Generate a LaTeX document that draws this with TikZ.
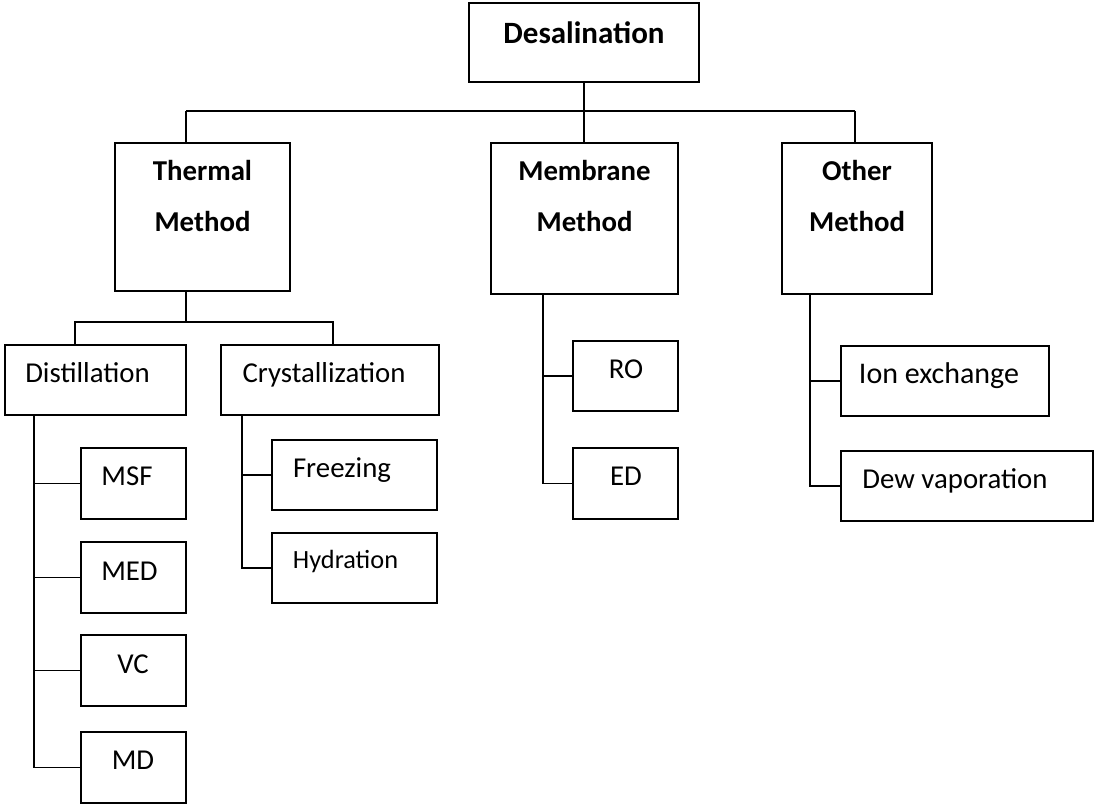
\documentclass[tikz,border=0pt]{standalone}
\usepackage{fontspec}
\setmainfont{Carlito}
\begin{document}
\begin{tikzpicture}[x=1pt,y=-1pt,
  box/.style={draw,line width=1.9pt,inner sep=0pt,rectangle},
  conn/.style={line width=1.9pt},
  bold/.style={font=\fontsize{28.8}{34}\selectfont\bfseries,anchor=base,inner sep=0pt},
  lbl/.style={font=\fontsize{28.8}{34}\selectfont,anchor=base,inner sep=0pt},
  lbls/.style={font=\fontsize{26.3}{31}\selectfont,anchor=base,inner sep=0pt}]
\useasboundingbox (0,0) rectangle (1095,807);
% boxes
\node[box,minimum width=230pt,minimum height=79pt] (desal) at (584,42.5) {};
\node[box,minimum width=175pt,minimum height=148pt] (thermal) at (202.5,217) {};
\node[box,minimum width=187pt,minimum height=151pt] (membrane) at (584.5,218.5) {};
\node[box,minimum width=150pt,minimum height=151pt] (other) at (857,218.5) {};
\node[box,minimum width=181pt,minimum height=70pt] (dist) at (95.5,380) {};
\node[box,minimum width=218pt,minimum height=70pt] (cryst) at (330,380) {};
\node[box,minimum width=105pt,minimum height=71pt] (msf) at (133.5,483.5) {};
\node[box,minimum width=105pt,minimum height=71pt] (med) at (133.5,577.5) {};
\node[box,minimum width=105pt,minimum height=71pt] (vc) at (133.5,670.5) {};
\node[box,minimum width=105pt,minimum height=71pt] (md) at (133.5,767.5) {};
\node[box,minimum width=165pt,minimum height=70pt] (freeze) at (354.5,475) {};
\node[box,minimum width=165pt,minimum height=70pt] (hydra) at (354.5,568) {};
\node[box,minimum width=105pt,minimum height=70pt] (ro) at (625.5,376) {};
\node[box,minimum width=105pt,minimum height=71pt] (ed) at (625.5,483.5) {};
\node[box,minimum width=208pt,minimum height=70pt] (ion) at (945,381) {};
\node[box,minimum width=252pt,minimum height=70pt] (dew) at (967,486) {};
% labels
\node[bold,font=\fontsize{31}{36}\selectfont\bfseries] (tdesal) at (584,43) {Desalination};
\node[bold] (tthermal1) at (202.5,180) {Thermal};
\node[bold] (tthermal2) at (202.5,231) {Method};
\node[bold] (tmem1) at (584.5,180) {Membrane};
\node[bold] (tmem2) at (584.5,231) {Method};
\node[bold] (toth1) at (857,180) {Other};
\node[bold] (toth2) at (857,231) {Method};
\node[lbl] (tdist) at (87.5,382) {Distillation};
\node[lbl] (tcryst) at (324,382) {Crystallization};
\node[lbl] (tmsf) at (127,485) {MSF};
\node[lbl] (tmed) at (129.5,580) {MED};
\node[lbl] (tvc) at (133,673) {VC};
\node[lbl] (tmd) at (133,769) {MD};
\node[lbl] (tfreeze) at (342,477) {Freezing};
\node[lbls] (thydra) at (345.5,568) {Hydration};
\node[lbl] (tro) at (626,378) {RO};
\node[lbl] (ted) at (626,485) {ED};
\node[lbl,font=\fontsize{30}{35}\selectfont] (tion) at (939,383) {Ion exchange};
\node[lbl] (tdew) at (955,488) {Dew vaporation};
% coordinates
\coordinate (busL) at (186,111);
\coordinate (busR) at (855,111);
\coordinate (tA) at (186,322);
\coordinate (tL) at (75,322);
\coordinate (tR) at (333,322);
\coordinate (dS) at (34,415);
\coordinate (cS) at (242,415);
\coordinate (mS) at (543,294);
\coordinate (oS) at (810,294);
% connectors
\draw[conn] (desal.south) -- (desal.south |- membrane.north);
\draw[conn] (busL) -- (busR);
\draw[conn] (busL) -- (busL |- thermal.north);
\draw[conn] (busR) -- (busR |- other.north);
\draw[conn] (tA |- thermal.south) -- (tA);
\draw[conn] (tL |- dist.north) -- (tL) -- (tR) -- (tR |- cryst.north);
\draw[conn] (dS |- dist.south) -- (dS |- md.west) -- (md.west);
\draw[conn] (dS |- msf.west) -- (msf.west);
\draw[conn] (dS |- med.west) -- (med.west);
\draw[conn] (dS |- vc.west) -- (vc.west);
\draw[conn] (cS |- cryst.south) -- (cS |- hydra.west) -- (hydra.west);
\draw[conn] (cS |- freeze.west) -- (freeze.west);
\draw[conn] (mS |- membrane.south) -- (mS |- ed.west) -- (ed.west);
\draw[conn] (mS |- ro.west) -- (ro.west);
\draw[conn] (oS |- other.south) -- (oS |- dew.west) -- (dew.west);
\draw[conn] (oS |- ion.west) -- (ion.west);
\end{tikzpicture}
\end{document}
